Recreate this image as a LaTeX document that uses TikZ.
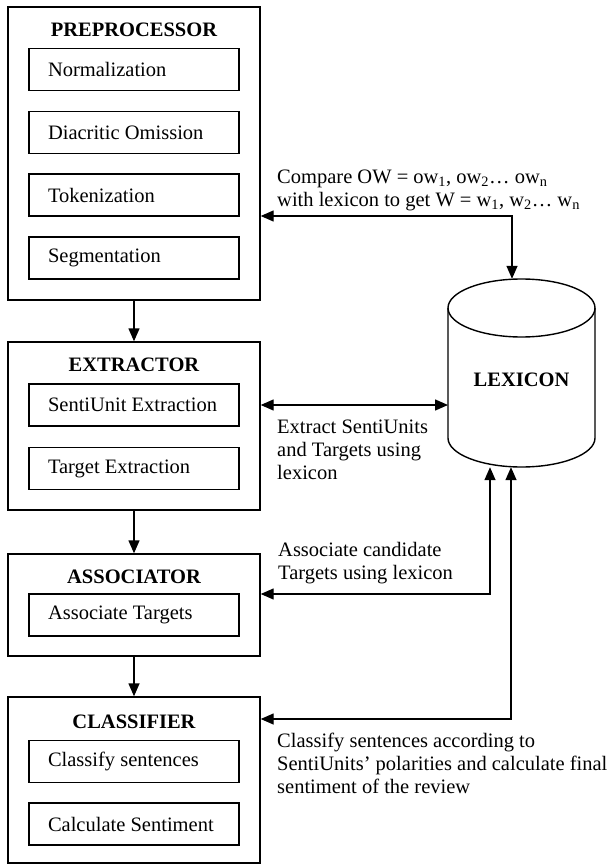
\documentclass[tikz,border=0pt]{standalone}
\usepackage{fontspec}
\setmainfont{Liberation Serif}
\usetikzlibrary{arrows.meta}
\begin{document}
\begin{tikzpicture}[x=1pt,y=1pt,
  font=\fontsize{20.5}{23}\selectfont,
  outerbox/.style={draw, line width=1.4pt, minimum width=252pt, inner sep=0pt},
  innerbox/.style={draw, line width=1.4pt, minimum width=210pt, minimum height=42pt, inner sep=0pt, text width=172pt, align=flush left},
  boxtitle/.style={font=\fontsize{20.5}{23}\selectfont\bfseries, inner sep=0pt},
  note/.style={align=flush left, anchor=west, inner sep=0pt},
  conn/.style={line width=1.4pt, -{Triangle[length=13pt,width=11pt]}},
  biconn/.style={line width=1.4pt, {Triangle[length=13pt,width=11pt]}-{Triangle[length=13pt,width=11pt]}}
]
\useasboundingbox (0,0) rectangle (614,-866);
\fill[white] (0,0) rectangle (614,-866);

% PREPROCESSOR
\node[outerbox, minimum height=293pt] (pre) at (134,-153.5) {};
\node[boxtitle] (preT) at (134,-30) {PREPROCESSOR};
\node[innerbox] (norm) at (134,-69.5) {Normalization};
\node[innerbox] (diac) at (134,-132.5) {Diacritic Omission};
\node[innerbox] (tok) at (134,-195) {Tokenization};
\node[innerbox] (seg) at (134,-258) {Segmentation};

% EXTRACTOR
\node[outerbox, minimum height=168pt] (ext) at (134,-426) {};
\node[boxtitle] (extT) at (134,-365) {EXTRACTOR};
\node[innerbox] (senti) at (134,-405) {SentiUnit Extraction};
\node[innerbox] (targ) at (134,-468.5) {Target Extraction};

% ASSOCIATOR
\node[outerbox, minimum height=102pt] (asso) at (134,-605) {};
\node[boxtitle] (assoT) at (134,-577) {ASSOCIATOR};
\node[innerbox] (assoc) at (134,-615) {Associate Targets};

% CLASSIFIER
\node[outerbox, minimum height=166pt] (cls) at (134,-780) {};
\node[boxtitle] (clsT) at (134,-722) {CLASSIFIER};
\node[innerbox] (clss) at (134,-761.5) {Classify sentences};
\node[innerbox] (calc) at (134,-824) {Calculate Sentiment};

% LEXICON
\node[minimum width=147pt, minimum height=188pt, inner sep=0pt] (lex) at (521.5,-373) {};
\draw[line width=1.4pt] (521.5,-308) ellipse[x radius=73.5, y radius=29];
\draw[line width=1.4pt] (448,-308) -- (448,-438) arc[start angle=180, end angle=360, x radius=73.5, y radius=29] -- (595,-308);
\node[boxtitle] (lexT) at (521.5,-380) {LEXICON};

% vertical flow
\draw[conn] (pre.south) -- (ext.north);
\draw[conn] (ext.south) -- (asso.north);
\draw[conn] (asso.south) -- (cls.north);

% lexicon connectors
\coordinate (k1) at (512,-216);
\coordinate (k2) at (448,-405);
\coordinate (k3) at (490,-594);
\coordinate (k4) at (511,-719);
\draw[biconn] (pre.east |- k1) -- (k1) -- (k1 |- lex.north);
\draw[biconn] (ext.east |- k2) -- (k2);
\draw[biconn] (asso.east |- k3) -- (k3) -- (k3 |- lex.south);
\draw[biconn] (cls.east |- k4) -- (k4) -- (k4 |- lex.south);

% notes
\node[note] (n1) at (277,-190) {Compare OW = ow\textsubscript{1}, ow\textsubscript{2}… ow\textsubscript{n}\\with lexicon to get W = w\textsubscript{1}, w\textsubscript{2}… w\textsubscript{n}};
\node[note] (n2) at (277,-450) {Extract SentiUnits\\and Targets using\\lexicon};
\node[note] (n3) at (278,-563.5) {Associate candidate\\Targets using lexicon};
\node[note] (n4) at (277,-763) {Classify sentences according to\\SentiUnits’ polarities and calculate final\\sentiment of the review};
\end{tikzpicture}
\end{document}
